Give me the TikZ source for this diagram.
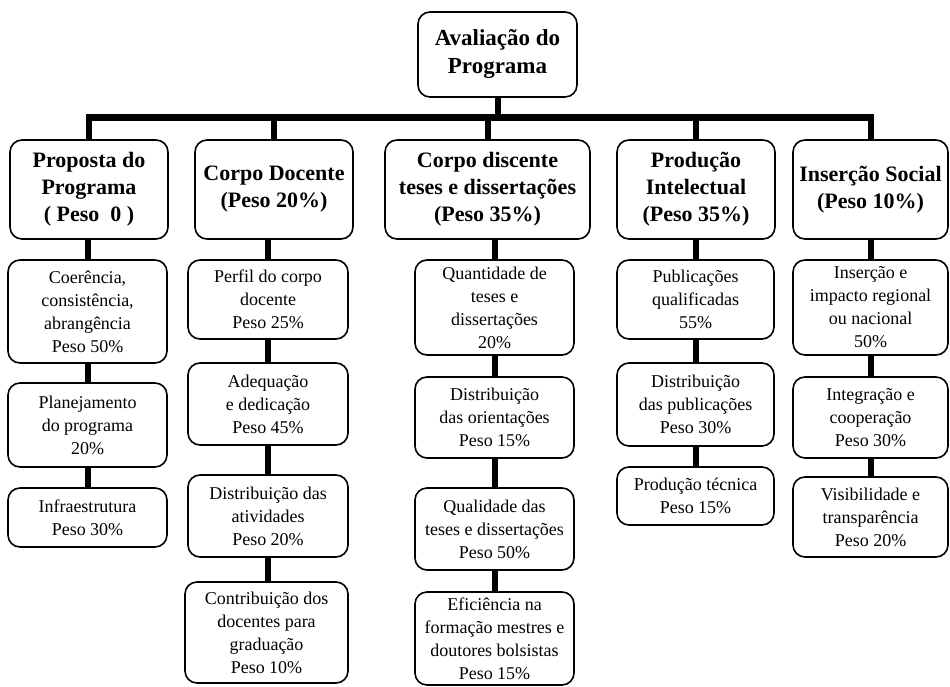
\documentclass[tikz,border=0pt]{standalone}
\usepackage{fontspec}
\setmainfont{Liberation Serif}
\usepackage{tikz}
\newcommand{\boxradius}{12pt}
\tikzstyle{block}=[draw, line width=1.6pt, rounded corners=\boxradius, align=center, inner sep=2pt, outer sep=0]
\tikzstyle{titlebox}=[block, font=\fontsize{23}{28}\selectfont\bfseries]
\tikzstyle{headbox}=[block, font=\fontsize{22}{27}\selectfont\bfseries]
\tikzstyle{itembox}=[block, font=\fontsize{18}{23}\selectfont]
\tikzstyle{link}=[line width=6pt]
\tikzstyle{bus}=[line width=7pt, line cap=rect]

\begin{document}
\begin{tikzpicture}[x=1pt, y=-1pt]
    \useasboundingbox (0,0) rectangle (950,687);
    % top of the tree
    \node[titlebox, minimum width=159pt, minimum height=85pt] (title) at (497.5,54.5) {Avaliação do\\Programa};
    \coordinate (bus) at (0,118);
    % the five criteria
    \node[headbox, minimum width=158pt, minimum height=99pt] (hdr1) at (89,189.5) {Proposta do\\Programa\\( Peso\ \ 0 )};
    \node[headbox, minimum width=158pt, minimum height=99pt] (hdr2) at (274,189.5) {Corpo Docente\\(Peso 20\%)};
    \node[headbox, minimum width=205pt, minimum height=99pt] (hdr3) at (487.5,189.5) {Corpo discente\\teses e dissertações\\(Peso 35\%)};
    \node[headbox, minimum width=158pt, minimum height=99pt] (hdr4) at (696,189.5) {Produção\\Intelectual\\(Peso 35\%)};
    \node[headbox, minimum width=155pt, minimum height=99pt] (hdr5) at (870.5,189.5) {Inserção Social\\(Peso 10\%)};
    % items, column by column
    \node[itembox, minimum width=159pt, minimum height=103pt] (c1a) at (87.5,311.5) {Coerência,\\consistência,\\abrangência\\Peso 50\%};
    \node[itembox, minimum width=159pt, minimum height=84pt] (c1b) at (87.5,425) {Planejamento\\do programa\\20\%};
    \node[itembox, minimum width=159pt, minimum height=59pt] (c1c) at (87.5,517.5) {Infraestrutura\\Peso 30\%};
    \node[itembox, minimum width=160pt, minimum height=79pt] (c2a) at (268,299.5) {Perfil do corpo\\docente\\Peso 25\%};
    \node[itembox, minimum width=160pt, minimum height=82pt] (c2b) at (268,404) {Adequação\\e dedicação\\Peso 45\%};
    \node[itembox, minimum width=160pt, minimum height=82pt] (c2c) at (268,516) {Distribuição das\\atividades\\Peso 20\%};
    \node[itembox, minimum width=163pt, minimum height=101pt] (c2d) at (266.5,632.5) {Contribuição dos\\docentes para\\graduação\\Peso 10\%};
    \node[itembox, minimum width=159pt, minimum height=95pt] (c3a) at (494.5,307.5) {Quantidade de\\teses e\\dissertações\\20\%};
    \node[itembox, minimum width=159pt, minimum height=81pt] (c3b) at (494.5,417.5) {Distribuição\\das orientações\\Peso 15\%};
    \node[itembox, minimum width=159pt, minimum height=82pt] (c3c) at (494.5,529) {Qualidade das\\teses e dissertações\\Peso 50\%};
    \node[itembox, minimum width=159pt, minimum height=93pt] (c3d) at (494.5,638.5) {Eficiência na\\formação mestres e\\doutores bolsistas\\Peso 15\%};
    \node[itembox, minimum width=157pt, minimum height=79pt] (c4a) at (695.5,299.5) {Publicações\\qualificadas\\55\%};
    \node[itembox, minimum width=157pt, minimum height=83pt] (c4b) at (695.5,404.5) {Distribuição\\das publicações\\Peso 30\%};
    \node[itembox, minimum width=157pt, minimum height=58pt] (c4c) at (695.5,496) {Produção técnica\\Peso 15\%};
    \node[itembox, minimum width=155pt, minimum height=95pt] (c5a) at (870.5,307.5) {Inserção e\\impacto regional\\ou nacional\\50\%};
    \node[itembox, minimum width=155pt, minimum height=81pt] (c5b) at (870.5,417.5) {Integração e\\cooperação\\Peso 30\%};
    \node[itembox, minimum width=155pt, minimum height=80pt] (c5c) at (870.5,517) {Visibilidade e\\transparência\\Peso 20\%};
    % connectors
    \draw[link] (title.south) -- (title.south |- bus);
    \draw[bus] (hdr1.north |- bus) -- (hdr5.north |- bus);
    \draw[link] (hdr1.north) -- (hdr1.north |- bus);
    \draw[link] (hdr2.north) -- (hdr2.north |- bus);
    \draw[link] (hdr3.north) -- (hdr3.north |- bus);
    \draw[link] (hdr4.north) -- (hdr4.north |- bus);
    \draw[link] (hdr5.north) -- (hdr5.north |- bus);
    \draw[link] (hdr1.south -| c1a.north) -- (c1a.north);
    \draw[link] (c1a.south) -- (c1b.north);
    \draw[link] (c1b.south) -- (c1c.north);
    \draw[link] (hdr2.south -| c2a.north) -- (c2a.north);
    \draw[link] (c2a.south) -- (c2b.north);
    \draw[link] (c2b.south) -- (c2c.north);
    \draw[link] (c2c.south) -- (c2d.north -| c2c.south);
    \draw[link] (hdr3.south -| c3a.north) -- (c3a.north);
    \draw[link] (c3a.south) -- (c3b.north);
    \draw[link] (c3b.south) -- (c3c.north);
    \draw[link] (c3c.south) -- (c3d.north);
    \draw[link] (hdr4.south -| c4a.north) -- (c4a.north);
    \draw[link] (c4a.south) -- (c4b.north);
    \draw[link] (c4b.south) -- (c4c.north);
    \draw[link] (hdr5.south -| c5a.north) -- (c5a.north);
    \draw[link] (c5a.south) -- (c5b.north);
    \draw[link] (c5b.south) -- (c5c.north);
\end{tikzpicture}
\end{document}
